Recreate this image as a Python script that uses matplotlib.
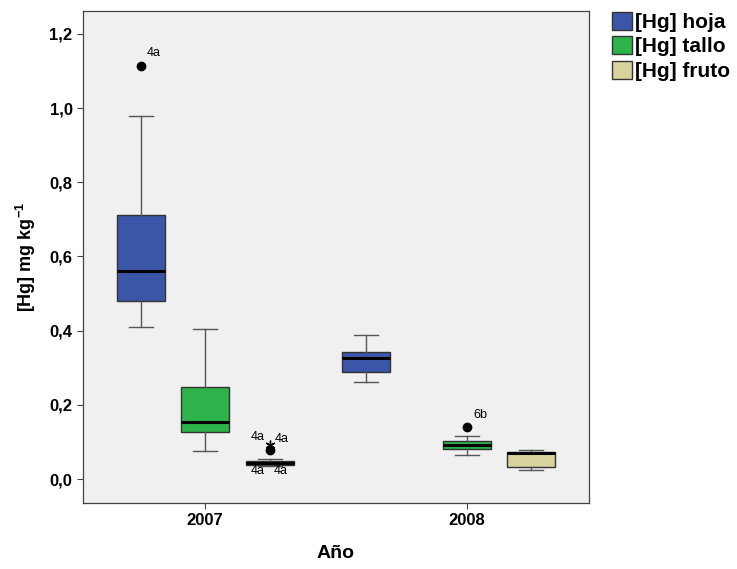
import matplotlib
matplotlib.use("Agg")
import matplotlib.pyplot as plt
from matplotlib.patches import Patch

plt.rcParams["font.family"] = ["Liberation Sans", "DejaVu Sans"]
plt.rcParams["mathtext.fontset"] = "custom"
plt.rcParams["mathtext.rm"] = "Liberation Sans"
plt.rcParams["mathtext.bf"] = "Liberation Sans:bold"

years = ["2007", "2008"]
series = ["[Hg] hoja", "[Hg] tallo", "[Hg] fruto"]
colors = ["#3B55A8", "#2DB34A", "#D8D29C"]

# stats per series per year: whislo, q1, med, q3, whishi
hoja_stats = [(0.410, 0.480, 0.561, 0.712, 0.979), (0.262, 0.289, 0.326, 0.342, 0.388)]
tallo_stats = [(0.076, 0.127, 0.154, 0.248, 0.405), (0.065, 0.081, 0.093, 0.102, 0.116)]
fruto_stats = [(0.036, 0.038, 0.043, 0.049, 0.054), (0.024, 0.032, 0.070, 0.073, 0.078)]
hoja_out = [[1.113], []]
tallo_out = [[], [0.140]]
fruto_out = [[0.078], []]
fruto_extreme = [[0.093], []]

# (series idx, year idx, value, text, dx px, dy px)
outlier_labels = [
    (0, 0, 1.113, "4a", 6, 13),
    (1, 1, 0.140, "6b", 6, 12),
    (2, 0, 0.078, "4a", -19, 13),
    (2, 0, 0.078, "4a", 5, 11),
    (2, 0, 0.043, "4a", -19, -8),
    (2, 0, 0.043, "4a", 4, -8),
]

all_stats = [hoja_stats, tallo_stats, fruto_stats]
all_out = [hoja_out, tallo_out, fruto_out]
offsets = [[-0.246, 0.0, 0.248], [-0.385, 0.0, 0.244]]
width = 0.183

fig = plt.figure(figsize=(7.37, 5.69), dpi=100)
ax = fig.add_axes([0.1126, 0.116, 0.6866, 0.8647])
ax.set_facecolor("#F0F0F0")

for si in range(3):
    for yi in range(2):
        wl, q1, med, q3, wh = all_stats[si][yi]
        st = dict(whislo=wl, q1=q1, med=med, q3=q3, whishi=wh, fliers=all_out[si][yi])
        pos = yi + 1 + offsets[yi][si]
        ax.bxp([st], positions=[pos], widths=width, patch_artist=True,
               showfliers=True,
               boxprops=dict(facecolor=colors[si], edgecolor="#333333", linewidth=1.0),
               medianprops=dict(color="black", linewidth=2.2),
               whiskerprops=dict(color="#555555", linewidth=1.0),
               capprops=dict(color="#555555", linewidth=1.0),
               capwidths=width / 2,
               flierprops=dict(marker="o", markerfacecolor="black", markeredgecolor="black", markersize=6))
        if si == 2:
            for v in fruto_extreme[yi]:
                ax.plot([pos], [v], marker=(6, 2, 0), color="black", markersize=7,
                        markeredgewidth=1.0, linestyle="none")

for si, yi, v, t, dx, dy in outlier_labels:
    pos = yi + 1 + offsets[yi][si]
    ax.annotate(t, xy=(pos, v), xytext=(dx, dy), textcoords="offset pixels",
                fontsize=9, color="black", ha="left", va="center")

ax.set_xlim(0.534, 2.466)
ax.set_ylim(-0.0647, 1.262)
ax.set_xticks([1, 2])
ax.set_xticklabels(years, fontsize=12, fontweight="bold")
yt = [0.0, 0.2, 0.4, 0.6, 0.8, 1.0, 1.2]
ax.set_yticks(yt)
ax.set_yticklabels([f"{v:.1f}".replace(".", ",") for v in yt], fontsize=12, fontweight="bold")
ax.tick_params(length=4, color="#444444")
ax.set_ylabel("[Hg] mg kg$^{\\mathbf{-1}}$", fontsize=13, fontweight="bold", labelpad=8)
ax.set_xlabel("Año", fontsize=14, fontweight="bold", labelpad=12)
for s in ax.spines.values():
    s.set_color("#444444")
    s.set_linewidth(0.9)

handles = [Patch(facecolor=c, edgecolor="#333333", label=l) for c, l in zip(colors, series)]
fig.legend(handles=handles, loc="upper left", bbox_to_anchor=(612 / 737, 1 - 12 / 569),
           frameon=False, prop=dict(size=15, weight="bold"), handlelength=0.95,
           handleheight=0.95, handletextpad=0.15, labelspacing=0.2, borderpad=0,
           borderaxespad=0)

fig.savefig("out.png", dpi=100, facecolor="white")
